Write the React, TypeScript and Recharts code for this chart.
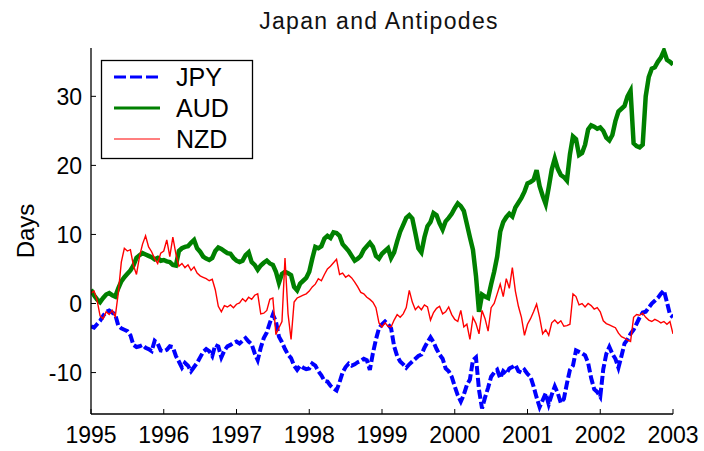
import React from 'react';
import { LineChart, Line, XAxis, YAxis } from 'recharts';

// half-month sampling grid, 1995.0 .. 2003.0
const YEARS = Array.from({ length: 193 }, (_, i) => 1995 + i / 24);

const YEAR_TICKS = [1995, 1996, 1997, 1998, 1999, 2000, 2001, 2002, 2003];
const DAY_TICKS = [-10, 0, 10, 20, 30];

const JPY = [
  -3.3, -3.5, -3.0, -2.5, -1.8, -1.2, -1.0, -1.3, -1.6, -3.2, -3.6, -3.8,
  -4.0, -4.6, -6.0, -6.3, -6.2, -6.0, -6.4, -6.6, -6.9, -5.4, -5.8, -6.8,
  -6.9, -6.7, -6.2, -6.3, -7.6, -8.4, -9.3, -8.6, -9.0, -9.8, -9.2, -8.6,
  -7.8, -7.0, -6.6, -6.9, -7.6, -6.0, -6.2, -7.8, -6.8, -6.2, -6.0, -5.7,
  -5.5, -5.8, -5.4, -5.0, -5.5, -5.9, -7.2, -8.2, -6.4, -5.0, -4.2, -2.8,
  -1.6, -2.6, -4.8, -5.6, -6.6, -7.4, -7.9, -9.0, -9.6, -9.0, -9.3, -9.5,
  -9.4, -8.7, -9.0, -9.8, -10.4, -11.2, -11.3, -11.9, -12.3, -12.6, -11.4, -10.0,
  -9.2, -8.7, -9.0, -8.8, -8.5, -8.3, -8.0, -8.2, -9.6, -7.2, -5.2, -3.6,
  -3.0, -2.6, -3.0, -3.6, -6.2, -7.6, -8.4, -8.8, -9.3, -8.8, -8.4, -8.0,
  -7.6, -7.4, -6.4, -5.6, -4.9, -5.6, -6.6, -7.4, -8.0, -9.4, -9.8, -10.6,
  -12.0, -13.3, -14.2, -13.2, -11.8, -11.0, -8.2, -7.8, -12.5, -15.2, -13.6, -12.2,
  -10.6, -10.0, -9.6, -10.8, -9.8, -10.2, -9.4, -9.2, -8.9, -9.8, -10.0, -9.6,
  -10.2, -10.6, -12.0, -13.6, -15.0, -14.0, -13.0, -14.6, -13.2, -12.0, -13.0, -14.4,
  -13.8, -11.6, -9.6, -9.0, -6.8, -7.0, -7.2, -7.5, -8.6, -10.8, -12.4, -12.8,
  -13.5, -9.5, -7.3, -6.3, -7.3, -8.0, -9.3, -7.6, -5.8, -5.2, -4.4, -3.8,
  -2.9, -2.0, -1.3, -1.2, -0.6, 0.0, 0.4, 0.8, 1.4, 1.9, 0.2, -1.6,
  -2.0,
];

const AUD = [
  2.0, 1.2, 0.6, 0.2, 0.8, 1.3, 1.5, 1.2, 1.0, 2.2, 3.2, 3.8,
  4.3, 4.8, 5.5, 6.6, 7.0, 7.3, 7.1, 6.9, 6.7, 6.4, 6.6, 6.2,
  6.3, 6.1, 6.0, 5.6, 5.5, 7.6, 8.0, 8.2, 8.3, 8.8, 9.2, 8.0,
  7.5, 6.8, 6.5, 6.3, 6.6, 7.6, 8.1, 7.9, 7.6, 7.3, 7.2, 6.6,
  6.2, 6.0, 6.2, 7.0, 7.4, 6.0, 5.6, 4.9, 5.5, 5.9, 6.2, 5.8,
  5.6, 4.6, 3.0, 4.3, 4.6, 4.4, 4.1, 2.4, 1.9, 2.9, 3.3, 3.7,
  4.6, 6.5, 8.2, 8.0, 8.3, 9.4, 9.8, 9.5, 10.3, 10.2, 9.8, 8.6,
  8.1, 7.6, 6.9, 6.2, 6.5, 6.9, 7.8, 8.3, 8.8, 8.2, 6.9, 6.5,
  7.2, 7.6, 8.0, 6.6, 7.4, 9.0, 10.4, 11.4, 12.4, 12.8, 12.3, 10.2,
  8.0, 7.4, 9.6, 11.2, 11.8, 13.1, 12.8, 11.6, 10.7, 11.9, 12.4, 13.0,
  13.8, 14.5, 14.1, 13.4, 11.5, 9.6, 7.8, 4.0, -1.2, 1.3, 1.0, 0.8,
  2.8, 4.6, 6.8, 10.4, 11.8, 12.5, 13.0, 12.6, 13.9, 14.6, 15.3, 16.2,
  17.4, 17.6, 17.9, 19.3, 17.0, 15.6, 14.4, 16.8, 19.4, 21.0, 19.5, 18.6,
  18.3, 17.8, 21.6, 24.2, 23.8, 21.5, 21.8, 23.0, 25.2, 25.8, 25.6, 25.3,
  25.5, 25.0, 24.0, 23.6, 24.4, 26.4, 27.8, 28.2, 28.6, 30.0, 30.8, 23.2,
  22.8, 22.6, 23.0, 30.0, 32.8, 34.0, 34.2, 35.0, 35.6, 36.6, 35.3, 35.0,
  34.6,
];

const NZD = [
  1.5, 1.8, 0.5, -1.8, -2.2, -1.2, -1.6, -1.0, -1.9, 1.5, 6.0, 8.0,
  7.6, 7.8, 5.5, 4.2, 6.8, 8.6, 9.8, 8.2, 7.5, 6.5, 5.8, 7.3,
  7.6, 9.2, 6.8, 9.6, 7.2, 5.4, 5.8, 5.2, 5.6, 4.8, 5.3, 4.4,
  4.0, 3.8, 3.6, 3.3, 3.5, 2.0, -0.4, -1.2, -0.3, -0.5, -0.2, -0.6,
  -0.1, 0.1, 0.7, 0.3, 0.9, 0.6, 1.2, 1.4, -1.5, -1.4, -1.0, 0.6,
  0.8, -4.5, -3.5, -2.6, 6.6, -1.5, -5.2, 0.2, 0.8, 1.0, 1.2, 1.4,
  1.8, 2.4, 2.8, 3.6, 3.3, 4.2, 5.0, 5.4, 5.9, 6.4, 4.2, 4.4,
  3.8, 4.1, 3.7, 3.1, 2.4, 1.6, 1.4, 0.9, 0.6, 0.2, -0.6, -2.8,
  -3.4, -2.8, -3.3, -3.4, -2.4, -1.6, -2.0, -1.5, -0.6, 1.9, 0.2, -0.9,
  -0.4, -0.9, -0.2, -0.5, -2.4, -1.3, -0.7, -0.4, -1.5, -1.2, -0.5, -1.6,
  -2.3, -2.6, -1.0, -3.4, -3.0, -5.2, -2.0, -2.9, -4.4, -1.0, -2.2, -4.0,
  -0.6, 0.0, 1.4, 2.8, 1.0, 3.6, 2.2, 5.2, 1.8, -0.4, -2.0, -4.6,
  -3.0, -2.2, -1.2, -0.1, -2.0, -4.4, -3.8, -4.6, -2.8, -2.4, -2.9, -2.5,
  -3.3, -3.2, -3.0, 1.4, 1.0, -0.2, 0.0, -0.5, 0.0, -0.3, -0.8, -0.6,
  -1.2, -2.5, -2.9, -3.1, -3.3, -3.5, -4.3, -4.8, -5.0, -5.3, -5.5, -2.0,
  -1.6, -1.7, -1.4, -2.0, -2.4, -2.6, -2.3, -2.5, -2.8, -2.6, -3.0, -2.6,
  -4.4,
];

const rows = YEARS.map((t, i) => ({ t, jpy: JPY[i], aud: AUD[i], nzd: NZD[i] }));

const FONT = '"Liberation Sans", Arial, sans-serif';
const INK = '#000';

// axis ticks point into the plot box, as on a MATLAB figure
const BottomTick = ({ x, y, payload }: any) => (
  <g>
    <line x1={x} y1={y} x2={x} y2={y - 5} stroke={INK} strokeWidth={1} />
    <text x={x} y={y + 29} textAnchor="middle" fontSize={23} fontFamily={FONT} fill={INK}>
      {payload.value}
    </text>
  </g>
);

const LeftTick = ({ x, y, payload }: any) => (
  <g>
    <line x1={x} y1={y} x2={x + 5} y2={y} stroke={INK} strokeWidth={1} />
    <text x={x - 9} y={y + 8.3} textAnchor="end" fontSize={23} fontFamily={FONT} fill={INK}>
      {payload.value}
    </text>
  </g>
);

const TopTick = ({ x, y }: any) => <line x1={x} y1={y} x2={x} y2={y + 5} stroke={INK} strokeWidth={1} />;

const RightTick = ({ x, y }: any) => <line x1={x} y1={y} x2={x - 5} y2={y} stroke={INK} strokeWidth={1} />;

const axisLine = { stroke: INK, strokeWidth: 1.3 };

export default function App() {
  return (
    <div style={{ position: 'absolute', left: 0, top: 0, width: 704, height: 451, background: '#fff' }}>
      <LineChart width={704} height={451} data={rows} margin={{ top: 48, right: 31, bottom: 0, left: 0 }}>
        <XAxis
          dataKey="t"
          type="number"
          domain={[1995, 2003]}
          ticks={YEAR_TICKS}
          allowDataOverflow
          height={37}
          tickSize={0}
          tickMargin={0}
          tickLine={false}
          axisLine={axisLine}
          tick={<BottomTick />}
        />
        <XAxis
          xAxisId="top"
          orientation="top"
          dataKey="t"
          type="number"
          domain={[1995, 2003]}
          ticks={YEAR_TICKS}
          allowDataOverflow
          height={0}
          tickSize={0}
          tickMargin={0}
          tickLine={false}
          axisLine={axisLine}
          tick={<TopTick />}
        />
        <YAxis
          type="number"
          domain={[-16, 37]}
          ticks={DAY_TICKS}
          allowDataOverflow
          width={91}
          tickSize={0}
          tickMargin={0}
          tickLine={false}
          axisLine={axisLine}
          tick={<LeftTick />}
        />
        <YAxis
          yAxisId="right"
          orientation="right"
          type="number"
          domain={[-16, 37]}
          ticks={DAY_TICKS}
          allowDataOverflow
          width={0}
          tickSize={0}
          tickMargin={0}
          tickLine={false}
          axisLine={axisLine}
          tick={<RightTick />}
        />
        <Line
          dataKey="jpy"
          type="linear"
          stroke="#0000ff"
          strokeWidth={4}
          strokeDasharray="9 3"
          dot={false}
          isAnimationActive={false}
        />
        <Line dataKey="aud" type="linear" stroke="#008000" strokeWidth={4.5} dot={false} isAnimationActive={false} />
        <Line dataKey="nzd" type="linear" stroke="#ff0000" strokeWidth={1.4} dot={false} isAnimationActive={false} />
      </LineChart>

      <svg
        width={704}
        height={451}
        style={{ position: 'absolute', left: 0, top: 0, pointerEvents: 'none' }}
        fontFamily={FONT}
        fill={INK}
      >
        <text x={379} y={29} textAnchor="middle" fontSize={23} letterSpacing={1.3} fill="#111">
          Japan and Antipodes
        </text>
        <text transform="translate(34, 231) rotate(-90)" textAnchor="middle" fontSize={24}>
          Days
        </text>

        <g transform="translate(101, 60)">
          <rect x={0.5} y={0.5} width={151} height={98} fill="#fff" stroke={INK} strokeWidth={1.3} />
          <line x1={13} y1={17} x2={59} y2={17} stroke="#0000ff" strokeWidth={3} strokeDasharray="12 4" />
          <line x1={13} y1={48} x2={59} y2={48} stroke="#008000" strokeWidth={3} />
          <line x1={13} y1={79} x2={59} y2={79} stroke="#ff0000" strokeWidth={1.2} />
          <text x={75} y={26} fontSize={25}>JPY</text>
          <text x={75} y={57} fontSize={25}>AUD</text>
          <text x={75} y={88} fontSize={25}>NZD</text>
        </g>
      </svg>
    </div>
  );
}
